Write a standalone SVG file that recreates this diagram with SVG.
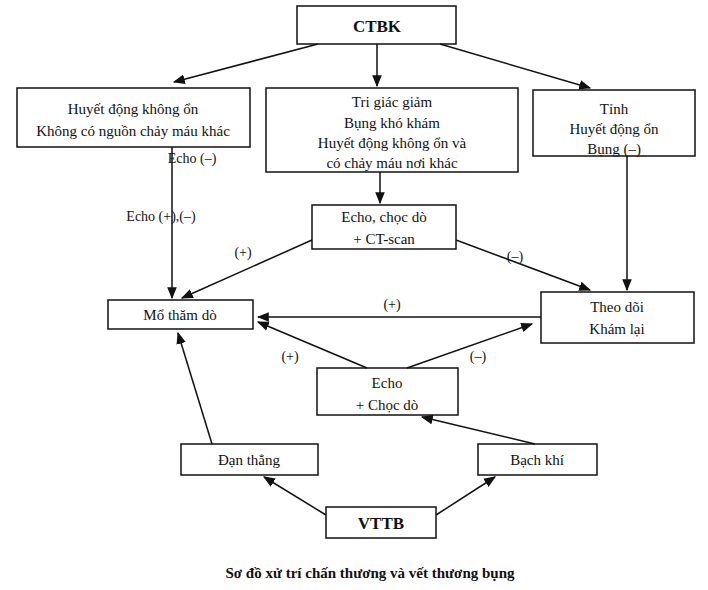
<svg xmlns="http://www.w3.org/2000/svg" width="708" height="590" viewBox="0 0 708 590">
<style>
rect{fill:#fff;stroke:#111;stroke-width:1.5}
text{font-family:"Liberation Serif",serif;font-size:15px;fill:#111;text-anchor:middle}
.b{font-weight:bold;font-size:17px}
.l{font-size:14px}
#conn line{stroke:#111;stroke-width:1.5;marker-end:url(#a)}
</style>
<defs><marker id="a" viewBox="0 0 10 10" refX="9" refY="5" markerWidth="8" markerHeight="8" orient="auto"><path d="M0,1 L10,5 L0,9 z" fill="#111"/></marker></defs>
<rect x="0" y="0" width="708" height="590" style="stroke:none"/>
<g id="ctbk"><rect x="297" y="6" width="159" height="38"/><text class="b" x="377" y="32">CTBK</text></g>
<g id="left"><rect x="17" y="88" width="233" height="59"/><text x="133" y="114">Huyết động không ổn</text><text x="133" y="136">Không có nguồn chảy máu khác</text></g>
<g id="mid"><rect x="266" y="88" width="252" height="84"/><text x="392" y="107">Tri giác giảm</text><text x="392" y="128">Bụng khó khám</text><text x="392" y="148">Huyết động không ổn và</text><text x="392" y="168">có chảy máu nơi khác</text></g>
<g id="right"><rect x="533" y="90" width="162" height="66"/><text x="614" y="114">Tỉnh</text><text x="614" y="134">Huyết động ổn</text><text x="614" y="154">Bụng (–)</text></g>
<g id="echo1"><rect x="312" y="205" width="144" height="44"/><text x="384" y="222">Echo, chọc dò</text><text x="384" y="244">+ CT-scan</text></g>
<g id="mo"><rect x="108" y="300" width="145" height="29"/><text x="180" y="320">Mổ thăm dò</text></g>
<g id="theodoi"><rect x="541" y="292" width="153" height="51"/><text x="617" y="312">Theo dõi</text><text x="617" y="334">Khám lại</text></g>
<g id="echo2"><rect x="317" y="368" width="141" height="47"/><text x="387" y="388">Echo</text><text x="387" y="410">+ Chọc dò</text></g>
<g id="dan"><rect x="181" y="444" width="137" height="31"/><text x="249" y="465">Đạn thẳng</text></g>
<g id="bach"><rect x="478" y="444" width="119" height="31"/><text x="537" y="465">Bạch khí</text></g>
<g id="vttb"><rect x="326" y="507" width="110" height="31"/><text class="b" x="381" y="529">VTTB</text></g>
<g id="conn">
<line x1="318" y1="44" x2="174" y2="82"/>
<line x1="377" y1="44" x2="377" y2="86"/>
<line x1="440" y1="44" x2="590" y2="88"/>
<line x1="172" y1="147" x2="172" y2="298"/>
<line x1="380" y1="172" x2="380" y2="203"/>
<line x1="312" y1="240" x2="182" y2="298"/>
<line x1="456" y1="240" x2="590" y2="290"/>
<line x1="627" y1="156" x2="627" y2="290"/>
<line x1="541" y1="317" x2="258" y2="317"/>
<line x1="407" y1="368" x2="532" y2="324"/>
<line x1="367" y1="368" x2="258" y2="322"/>
<line x1="212" y1="444" x2="178" y2="333"/>
<line x1="535" y1="444" x2="422" y2="417"/>
<line x1="326" y1="515" x2="264" y2="477"/>
<line x1="436" y1="515" x2="495" y2="477"/>
</g>
<g id="labels">
<text class="l" x="192" y="163">Echo  (–)</text>
<text class="l" x="161" y="221">Echo  (+),(–)</text>
<text class="l" x="243" y="257">(+)</text>
<text class="l" x="515" y="261">(–)</text>
<text class="l" x="392" y="309">(+)</text>
<text class="l" x="290" y="361">(+)</text>
<text class="l" x="478" y="361">(–)</text>
</g>
<text class="b" style="font-size:15px" x="370" y="578">Sơ đồ xử trí chấn thương và vết thương bụng</text>
</svg>
